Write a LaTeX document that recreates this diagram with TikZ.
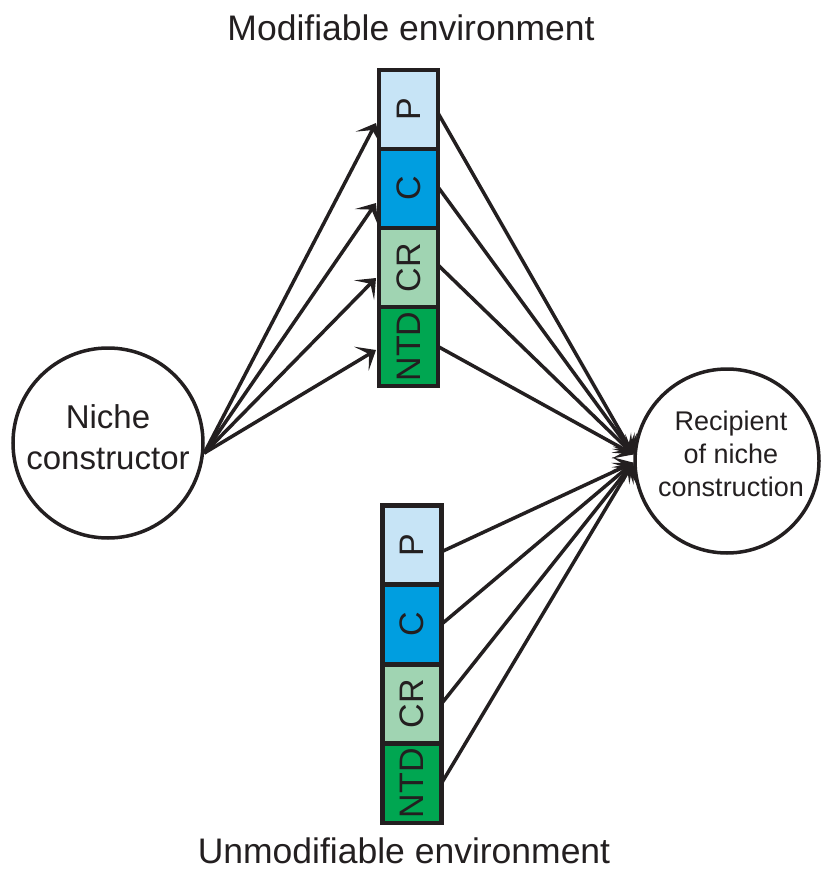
\documentclass[tikz,border=0pt]{standalone}
\usepackage{fontspec}
\setmainfont{Liberation Sans}
\usetikzlibrary{arrows.meta}
\definecolor{ink}{HTML}{231F20}
\definecolor{cP}{HTML}{C7E4F6}
\definecolor{cC}{HTML}{009EE0}
\definecolor{cCR}{HTML}{A0D4B2}
\definecolor{cNTD}{HTML}{00A651}
\begin{document}
\begin{tikzpicture}[x=1pt,y=-1pt,
  seg/.style={draw=ink, line width=4.5pt, minimum width=59pt, minimum height=79pt,
    inner sep=0pt, outer sep=0pt, text=ink, font=\fontsize{34}{34}\selectfont},
  circ/.style={circle, draw=ink, line width=3.5pt, minimum size=190pt, inner sep=0pt},
  txt/.style={text=ink, align=center, inner sep=0pt},
  title/.style={text=ink, inner sep=0pt, font=\fontsize{35.5}{40}\selectfont},
  conn/.style={draw=ink, line width=3.5pt, line cap=butt,
    -{Stealth[length=17pt,width=28pt,inset=9pt]}}
]
\useasboundingbox (0,0) rectangle (820,874);

% titles
\node[title, anchor=base] (modt) at (411,41) {Modifiable environment};
\node[title, anchor=base] (unmodt) at (404,863) {Unmodifiable environment};

% circles
\node[circ] (niche) at (108,443) {};
\node[txt, font=\fontsize{33}{41}\selectfont] (nichetext) at (108,437.5) {Niche\\constructor};
\node[circ, minimum size=184pt] (rec) at (727,461) {};
\node[txt, font=\fontsize{27}{33}\selectfont] (rectext) at (731,454) {Recipient\\of niche\\construction};

% top (modifiable) boxes
\node[seg, fill=cP]   (tP)   at (408.5,109.5) {\rotatebox{90}{P}};
\node[seg, fill=cC]   (tC)   at (408.5,188.5) {\rotatebox{90}{C}};
\node[seg, fill=cCR]  (tCR)  at (408.5,267.5) {\rotatebox{90}{CR}};
\node[seg, fill=cNTD] (tNTD) at (408.5,346.5) {\rotatebox{90}{NTD}};

% bottom (unmodifiable) boxes
\node[seg, fill=cP]   (bP)   at (412,544.75) {\rotatebox{90}{P}};
\node[seg, fill=cC]   (bC)   at (412,624.25) {\rotatebox{90}{C}};
\node[seg, fill=cCR]  (bCR)  at (412,703.75) {\rotatebox{90}{CR}};
\node[seg, fill=cNTD] (bNTD) at (412,783.25) {\rotatebox{90}{NTD}};

% niche constructor -> modifiable environment
\draw[conn] (niche.-6) -- ([xshift=-3pt,yshift=-13.5pt]tP.west);
\draw[conn] (niche.-6) -- ([xshift=-3pt,yshift=-14.5pt]tC.west);
\draw[conn] (niche.-6) -- ([xshift=-3pt,yshift=-10.5pt]tCR.west);
\draw[conn] (niche.-6) -- ([xshift=-3pt,yshift=-3.5pt]tNTD.west);

% modifiable environment -> recipient
\draw[conn] ([yshift=-3.5pt]tP.east) -- (rec.176.5);
\draw[conn] ([yshift=1.5pt]tC.east) -- (rec.176.5);
\draw[conn] ([yshift=2.5pt]tCR.east) -- (rec.176.5);
\draw[conn] (tNTD.east) -- (rec.176.5);

% unmodifiable environment -> recipient
\draw[conn] ([yshift=-7pt]bP.east) -- (rec.181.5);
\draw[conn] (bC.east) -- (rec.181.5);
\draw[conn] (bCR.east) -- (rec.181.5);
\draw[conn] (bNTD.east) -- (rec.181.5);
\end{tikzpicture}
\end{document}
